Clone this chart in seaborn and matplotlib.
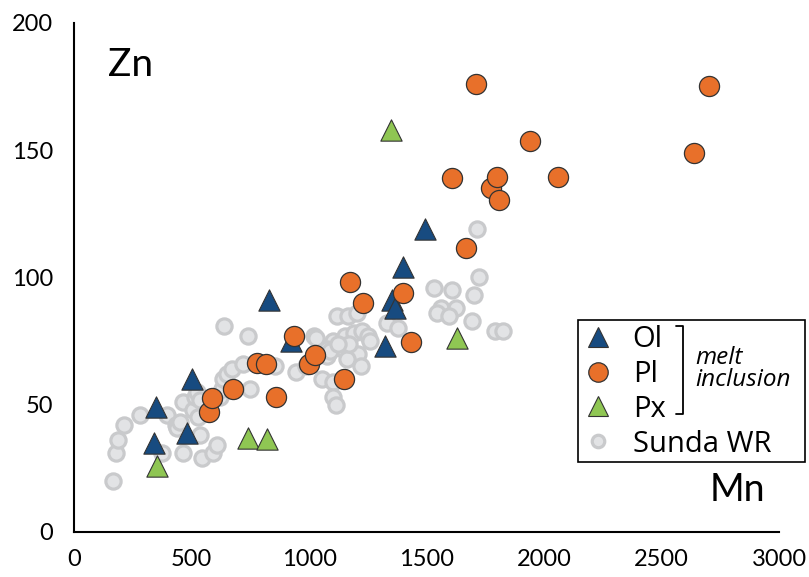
import matplotlib
matplotlib.use("Agg")
import matplotlib.pyplot as plt
from matplotlib.lines import Line2D
from matplotlib.patches import Rectangle
import seaborn as sns

# melt inclusion data, Mn vs Zn (ppm)
ol_mn = [340, 350, 480, 500, 830, 925, 1325, 1355, 1365, 1400, 1495]
ol_zn = [35, 49, 39, 60, 91, 75, 73, 91, 88, 104, 119]

pl_mn = [575, 587, 677, 778, 817, 860, 1000, 1025, 935, 1150, 1175, 1230,
         1400, 1435, 1670, 1610, 1710, 1775, 1800, 1810, 1940, 2060, 2640, 2700]
pl_zn = [47, 52.5, 56, 66.5, 66, 53, 66, 69.5, 77, 60, 98, 90,
         94, 74.5, 111.5, 139, 176, 135, 139.5, 130.5, 153.5, 139.5, 149, 175]

px_mn = [355, 740, 820, 1350, 1630]
px_zn = [26, 37, 36.5, 158, 76]

# Sunda whole rock
wr_mn = [165, 180, 185, 213, 280, 375, 397, 434, 440, 464, 462, 507, 515, 522,
         536, 528, 451, 536, 543, 593, 607, 621, 628, 636, 650, 671, 721, 638,
         739, 749, 855, 945, 1020, 1030, 1057, 1103, 1103, 1114, 1120, 1165,
         1205, 1330, 1380, 1103, 1153, 1190, 1225, 1250, 1258, 1075, 1145, 1210,
         1075, 1160, 1220, 985, 1090, 1168, 1124,
         1530, 1610, 1700, 1560, 1545, 1625, 1595, 1695, 1790, 1825, 1725, 1715]
wr_zn = [20, 31, 36, 42, 46, 31, 46, 42, 41, 51, 31, 48, 53, 55,
         52, 45, 43, 38, 29, 31, 34, 53, 56, 60, 62, 64, 66, 81,
         77, 56, 65, 63, 77, 76, 60, 59, 53, 50, 85, 85,
         86, 82, 80, 75, 77, 78, 79, 77, 75, 72, 72, 70,
         69, 68, 65, 65, 71, 74, 74,
         96, 95, 93, 88, 86, 88, 85, 83, 79, 79, 100, 119]

c_ol = "#174b80"
c_pl = "#e8702a"
c_px = "#8fc653"
c_wr_face = "#e2e3e5"
c_wr_edge = "#c9cacc"
c_edge = "#333333"

W, H = 809, 577


def fx(px):
    return px / W


def fy(py):
    return 1 - py / H


sns.set_style("white")
plt.rcParams['font.family'] = ['Lato', 'DejaVu Sans']
plt.rcParams['text.color'] = 'black'
plt.rcParams['xtick.color'] = 'black'
plt.rcParams['ytick.color'] = 'black'

fig = plt.figure(figsize=(W / 100, H / 100), dpi=100)
ax = fig.add_axes([0.0915, 0.078, 0.8715, 0.8827])

sns.scatterplot(x=wr_mn, y=wr_zn, ax=ax, marker='o', s=120, color=c_wr_face,
                edgecolor=c_wr_edge, linewidth=2.3, zorder=1)
sns.scatterplot(x=ol_mn, y=ol_zn, ax=ax, marker='^', s=235, color=c_ol,
                edgecolor=c_edge, linewidth=0.8, zorder=2)
sns.scatterplot(x=pl_mn, y=pl_zn, ax=ax, marker='o', s=210, color=c_pl,
                edgecolor=c_edge, linewidth=0.9, zorder=3)
sns.scatterplot(x=px_mn, y=px_zn, ax=ax, marker='^', s=235, color=c_px,
                edgecolor=c_edge, linewidth=0.8, zorder=4)

ax.set_xlim(0, 3000)
ax.set_ylim(0, 200)
ax.set_xticks(range(0, 3001, 500))
ax.set_yticks(range(0, 201, 50))
ax.set_xlabel("")
ax.set_ylabel("")
for s in ["top", "right"]:
    ax.spines[s].set_visible(False)
for s in ["left", "bottom"]:
    ax.spines[s].set_color("black")
    ax.spines[s].set_linewidth(1.5)
ax.tick_params(axis='both', direction='in', length=7, width=1.5,
               colors='black', labelsize=17)
ax.tick_params(axis='y', pad=15)
ax.tick_params(axis='x', pad=12)

ax.text(0.048, 0.917, "Zn", transform=ax.transAxes, fontsize=28,
        va='center', ha='left')
ax.text(0.98, 0.0825, "Mn", transform=ax.transAxes, fontsize=27,
        va='center', ha='right')

# legend
handles = [
    Line2D([], [], ls='none', marker='^', ms=15, mfc=c_ol, mec=c_edge, mew=0.8),
    Line2D([], [], ls='none', marker='o', ms=14, mfc=c_pl, mec=c_edge, mew=0.9),
    Line2D([], [], ls='none', marker='^', ms=15, mfc=c_px, mec=c_edge, mew=0.8),
    Line2D([], [], ls='none', marker='o', ms=9, mfc=c_wr_face, mec=c_wr_edge, mew=2.3),
]
labels = ["Ol", "Pl", "Px", "Sunda WR"]
fig.add_artist(Rectangle((fx(578), fy(462)), fx(805) - fx(578), fy(320) - fy(462),
                         transform=fig.transFigure, fill=False,
                         edgecolor='black', linewidth=1.2))
fig.legend(handles, labels, loc='upper left', bbox_to_anchor=(fx(586), fy(325)),
           frameon=False, prop={'family': 'Open Sans', 'size': 21},
           handlelength=0.8, handletextpad=0.8, labelspacing=0.2,
           borderpad=0, borderaxespad=0)

# bracket + melt inclusion note
bx = [fx(676), fx(683), fx(683), fx(676)]
by = [fy(326), fy(326), fy(414), fy(414)]
fig.add_artist(Line2D(bx, by, transform=fig.transFigure, color='black', lw=1.3))
fig.text(fx(695), fy(369), "melt\ninclusion", fontsize=17.5, style='italic',
         family='Open Sans', va='center', ha='left', linespacing=0.85)

fig.savefig("out.png", dpi=100)
